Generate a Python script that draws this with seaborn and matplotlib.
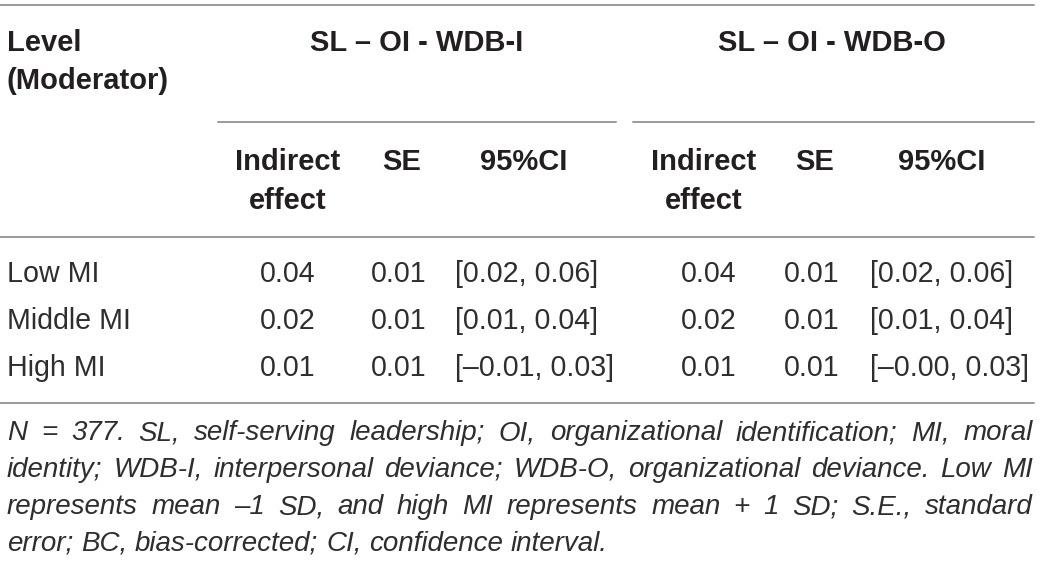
import matplotlib
matplotlib.use("Agg")
import matplotlib.pyplot as plt
import seaborn as sns

# table content
levels = ["Low MI", "Middle MI", "High MI"]
ie_i = [0.04, 0.02, 0.01]
se_i = [0.01, 0.01, 0.01]
ci_i = [(0.02, 0.06), (0.01, 0.04), (-0.01, 0.03)]
ie_o = [0.04, 0.02, 0.01]
se_o = [0.01, 0.01, 0.01]
ci_o = [(0.02, 0.06), (0.01, 0.04), (-0.00, 0.03)]
group_titles = ["SL \u2013 OI - WDB-I", "SL \u2013 OI - WDB-O"]
note_lines = [
    "N = 377. SL, self-serving leadership; OI, organizational identification; MI, moral",
    "identity; WDB-I, interpersonal deviance; WDB-O, organizational deviance. Low MI",
    "represents mean \u20131 SD, and high MI represents mean + 1 SD; S.E., standard",
    "error; BC, bias-corrected; CI, confidence interval.",
]

sns.set_theme(style="white")
plt.rcParams['font.family'] = ['Liberation Sans', 'DejaVu Sans']

W, H = 1041, 562
fig = plt.figure(figsize=(W / 100, H / 100), dpi=100)
ax = fig.add_axes([0, 0, 1, 1])
ax.set_xlim(0, W)
ax.set_ylim(H, 0)
ax.axis("off")

dark = "#231f20"
body = "#2e2e2e"
rule = "#9a9a9a"
fsb = 21
fs = 20.6

def fmt(v):
    return f"{v:.2f}".replace("-", "\u2013")

# rules
ax.plot([0, 1034], [5, 5], color=rule, lw=1.4)
ax.plot([218, 616], [122, 122], color=rule, lw=1.4)
ax.plot([633, 1034], [122, 122], color=rule, lw=1.4)
ax.plot([0, 1034], [237, 237], color=rule, lw=1.4)
ax.plot([0, 1034], [403, 403], color=rule, lw=1.4)

# header
ax.text(7, 43, "Level", fontsize=fsb, fontweight="bold", color=dark, va="center")
ax.text(7, 81, "(Moderator)", fontsize=fsb, fontweight="bold", color=dark, va="center")
for cx, title in zip([417, 832], group_titles):
    ax.text(cx, 43, title, fontsize=fsb, fontweight="bold", color=dark,
            va="center", ha="center")
for ie_x, se_x, ci_x in [(288, 402, 524), (704, 815, 942)]:
    ax.text(ie_x, 162, "Indirect", fontsize=fsb, fontweight="bold", color=dark,
            va="center", ha="center")
    ax.text(ie_x, 201, "effect", fontsize=fsb, fontweight="bold", color=dark,
            va="center", ha="center")
    ax.text(se_x, 162, "SE", fontsize=fsb, fontweight="bold", color=dark,
            va="center", ha="center")
    ax.text(ci_x, 162, "95%CI", fontsize=fsb, fontweight="bold", color=dark,
            va="center", ha="center")

# body rows
row_y = [274, 321, 368]
for i, lev in enumerate(levels):
    y = row_y[i]
    ax.text(7, y, lev, fontsize=fs, color=body, va="center")
    ax.text(288, y, fmt(ie_i[i]), fontsize=fs, color=body, va="center", ha="center")
    ax.text(399, y, fmt(se_i[i]), fontsize=fs, color=body, va="center", ha="center")
    ax.text(455, y, f"[{fmt(ci_i[i][0])}, {fmt(ci_i[i][1])}]", fontsize=fs,
            color=body, va="center")
    ax.text(709, y, fmt(ie_o[i]), fontsize=fs, color=body, va="center", ha="center")
    ax.text(812, y, fmt(se_o[i]), fontsize=fs, color=body, va="center", ha="center")
    ax.text(870, y, f"[{fmt(ci_o[i][0])}, {fmt(ci_o[i][1])}]", fontsize=fs,
            color=body, va="center")

# justified italic note
renderer = fig.canvas.get_renderer()
note_base = [440, 477, 514, 551]
left, right = 7, 1033
nfs = 20
for k, line in enumerate(note_lines):
    words = line.split(" ")
    texts = [ax.text(0, note_base[k], w, fontsize=nfs, style="italic", color=body,
                     va="baseline")
             for w in words]
    widths = [t.get_window_extent(renderer).width for t in texts]
    if k == len(note_lines) - 1:
        gap = renderer.points_to_pixels(nfs) * 0.28
    else:
        gap = (right - left - sum(widths)) / (len(words) - 1)
    x = left
    for t, w in zip(texts, widths):
        t.set_x(x)
        x += w + gap

fig.savefig("out.png", dpi=100)
